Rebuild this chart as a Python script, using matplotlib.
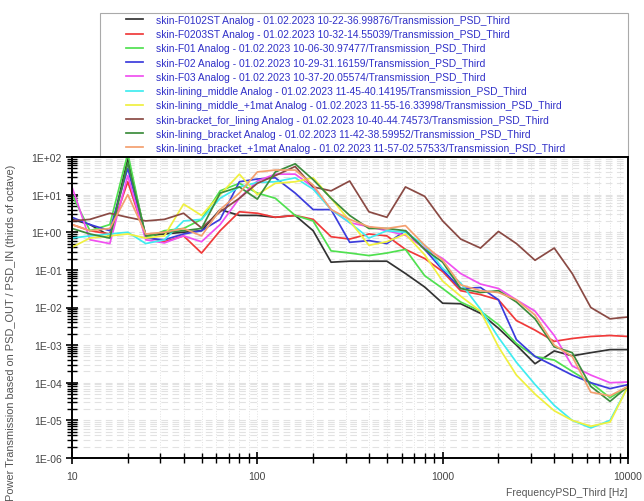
import math
import matplotlib
matplotlib.use("Agg")
import matplotlib.pyplot as plt
from matplotlib.patches import Rectangle
from matplotlib.ticker import LogLocator, FixedLocator, NullFormatter

plt.rcParams["font.family"] = ["Liberation Sans", "DejaVu Sans"]

# third-octave band centre frequencies
freqs = [10, 12.5, 16, 20, 25, 31.5, 40, 50, 63, 80, 100, 125, 160, 200, 250, 315,
         400, 500, 630, 800, 1000, 1250, 1600, 2000, 2500, 3150, 4000, 5000, 6300, 8000, 10000]

skin_f0102st = [2.2, 1.6, 0.8, 89, 0.8, 0.9, 1.0, 1.1, 4.0, 2.8, 2.8, 2.5, 2.8, 1.1, 0.16, 0.17,
                0.17, 0.17, 0.08, 0.035, 0.013, 0.0126, 0.007, 0.0028, 1.0e-3, 3.2e-4, 7.0e-4,
                5.2e-4, 6.3e-4, 7.6e-4, 7.6e-4]
skin_f0203st = [1.6, 1.1, 0.9, 22, 0.76, 0.56, 0.8, 0.28, 1.1, 3.5, 3.2, 2.5, 2.8, 2.2, 0.76, 0.66,
                0.9, 0.8, 0.35, 0.2, 0.09, 0.028, 0.022, 0.016, 4.5e-3, 2.5e-3, 1.26e-3,
                1.5e-3, 1.7e-3, 1.8e-3, 1.7e-3]
skin_f01 = [10, 1.1, 1.6, 125, 0.7, 1.1, 1.26, 2.2, 12.6, 20, 11, 8, 2.8, 2.0, 0.32, 0.28,
            0.24, 0.28, 0.35, 0.07, 0.032, 0.014, 0.008, 3.5e-3, 1.1e-3, 5.0e-4, 4.0e-4,
            2.0e-4, 1.0e-4, 4.0e-5, 8.0e-5]
skin_f02 = [2.5, 1.6, 1.1, 50, 0.7, 0.63, 0.9, 1.1, 2.2, 22, 26, 28, 11, 4.0, 4.0, 0.54,
            0.6, 0.5, 1.1, 0.35, 0.1, 0.032, 0.034, 0.016, 1.4e-3, 5.0e-4, 2.8e-4,
            1.6e-4, 1.0e-4, 7.0e-5, 8.9e-5]
skin_f03 = [16, 0.63, 0.5, 32, 0.63, 0.52, 0.8, 0.56, 1.6, 8, 23, 35, 35, 16, 4.0, 1.8,
            1.4, 1.1, 0.83, 0.38, 0.2, 0.08, 0.042, 0.032, 0.016, 8.0e-3, 1.8e-3,
            2.8e-4, 1.6e-4, 1.0e-4, 1.05e-4]
lining_middle = [0.7, 0.8, 0.9, 1.0, 0.5, 0.63, 2.0, 2.2, 8, 16, 21, 22, 28, 14, 4.0, 1.8,
                 0.7, 1.1, 1.0, 0.45, 0.11, 0.045, 0.009, 1.6e-3, 3.5e-4, 9.0e-5, 2.5e-5,
                 1.0e-5, 6.3e-6, 1.0e-5, 8.0e-5]
lining_middle_1mat = [0.4, 0.7, 0.8, 0.9, 0.7, 0.8, 5.6, 2.8, 10, 35, 10, 20, 22, 28, 8, 2.0,
                      0.45, 0.56, 0.9, 0.25, 0.05, 0.02, 8.0e-3, 9.0e-4, 1.6e-4, 5.0e-5, 1.8e-5,
                      1.0e-5, 7.0e-6, 9.0e-6, 8.0e-5]
bracket_for_lining = [2.0, 2.2, 3.2, 2.5, 2.0, 2.2, 3.2, 1.3, 3.5, 8, 20, 32, 56, 16, 12.6, 23,
                      3.5, 2.5, 16, 9, 2.0, 0.66, 0.38, 1.05, 0.5, 0.18, 0.38, 0.08, 0.01,
                      5.0e-3, 5.6e-3]
lining_bracket = [1.26, 0.9, 0.7, 70, 0.8, 1.0, 1.1, 1.26, 11, 16, 7.6, 40, 66, 25, 8, 2.8,
                  1.26, 1.26, 1.1, 0.35, 0.16, 0.032, 0.025, 0.028, 0.014, 5.0e-3, 9.0e-4,
                  6.3e-4, 8.0e-5, 3.2e-5, 8.0e-5]
lining_bracket_1mat = [1.6, 1.1, 1.26, 10, 0.9, 1.0, 1.26, 0.8, 4.0, 11, 40, 45, 45, 18, 4.0, 2.2,
                       1.4, 1.26, 1.5, 0.45, 0.18, 0.04, 0.028, 0.025, 0.016, 6.3e-3, 1.0e-3,
                       5.0e-4, 5.6e-5, 4.5e-5, 8.0e-5]

labels = [
    "skin-F0102ST Analog - 01.02.2023 10-22-36.99876/Transmission_PSD_Third",
    "skin-F0203ST Analog - 01.02.2023 10-32-14.55039/Transmission_PSD_Third",
    "skin-F01 Analog - 01.02.2023 10-06-30.97477/Transmission_PSD_Third",
    "skin-F02 Analog - 01.02.2023 10-29-31.16159/Transmission_PSD_Third",
    "skin-F03 Analog - 01.02.2023 10-37-20.05574/Transmission_PSD_Third",
    "skin-lining_middle Analog - 01.02.2023 11-45-40.14195/Transmission_PSD_Third",
    "skin-lining_middle_+1mat Analog - 01.02.2023 11-55-16.33998/Transmission_PSD_Third",
    "skin-bracket_for_lining Analog - 01.02.2023 10-40-44.74573/Transmission_PSD_Third",
    "skin-lining_bracket Analog - 01.02.2023 11-42-38.59952/Transmission_PSD_Third",
    "skin-lining_bracket_+1mat Analog - 01.02.2023 11-57-02.57533/Transmission_PSD_Third",
]
series = [skin_f0102st, skin_f0203st, skin_f01, skin_f02, skin_f03, lining_middle,
          lining_middle_1mat, bracket_for_lining, lining_bracket, lining_bracket_1mat]
colors = ["#333333", "#f03a3a", "#50e050", "#3c3cdc", "#f050f0", "#40ecf0",
          "#f0f040", "#8a4a44", "#3c8c3c", "#f4a070"]

fig = plt.figure(figsize=(6.44, 5.02), dpi=100)
ax = fig.add_axes([72 / 644, 43 / 502, 556 / 644, 301 / 502])

for vals, lab, c in zip(series, labels, colors):
    ax.plot(freqs, vals, color=c, lw=1.25, label=lab)

ax.set_xscale("log")
ax.set_yscale("log")
ax.set_xlim(10, 10000)
ax.set_ylim(1e-6, 1e2)

ax.yaxis.set_major_locator(LogLocator(base=10, numticks=20))
ax.yaxis.set_minor_locator(LogLocator(base=10, subs=range(2, 10), numticks=20))
ax.yaxis.set_major_formatter(lambda v, p: "1E%+03d" % round(math.log10(v)))
ax.yaxis.set_minor_formatter(NullFormatter())
ax.xaxis.set_major_locator(FixedLocator([10, 100, 1000, 10000]))
ax.xaxis.set_major_formatter(lambda v, p: "%d" % v)
ax.xaxis.set_minor_locator(LogLocator(base=10, subs=range(2, 10), numticks=20))
ax.xaxis.set_minor_formatter(NullFormatter())

ax.tick_params(which="major", direction="inout", length=9, width=1.2, labelsize=7.5,
               labelcolor="#444444", pad=3)
ax.tick_params(which="minor", direction="inout", length=7, width=1.0)
ax.tick_params(axis="x", which="major", pad=5)

ax.grid(True, axis="y", which="both", color="#e2e2e2", lw=0.8, ls=(0, (6, 4)))
ax.grid(True, axis="x", which="both", color="#e2e2e2", lw=0.7, ls=":")
for s in ax.spines.values():
    s.set_linewidth(1.4)

ax.set_xlabel("FrequencyPSD_Third [Hz]", fontsize=7.5, color="#555555", loc="right", labelpad=4)
ax.set_ylabel("Power Transmission based on PSD_OUT / PSD_IN (thirds of octave)",
              fontsize=7.9, color="#555555")
ax.yaxis.set_label_coords(-0.1, 0.42)

# legend frame drawn separately so the entries can sit further right
fig.patches.append(Rectangle((100 / 644, 1 - 158 / 502), 528 / 644, 144 / 502,
                             transform=fig.transFigure, facecolor="white",
                             edgecolor="#aaaaaa", lw=0.8, zorder=-1))
leg = fig.legend(loc="upper left", bbox_to_anchor=(124 / 644, 1 - 14 / 502),
                 bbox_transform=fig.transFigure, fontsize=7.4, frameon=False,
                 borderaxespad=0, handlelength=1.65, handletextpad=1.3,
                 labelspacing=0.41, borderpad=0.2)
for t in leg.get_texts():
    t.set_color("#3030c8")

fig.savefig("out.png", dpi=100)
